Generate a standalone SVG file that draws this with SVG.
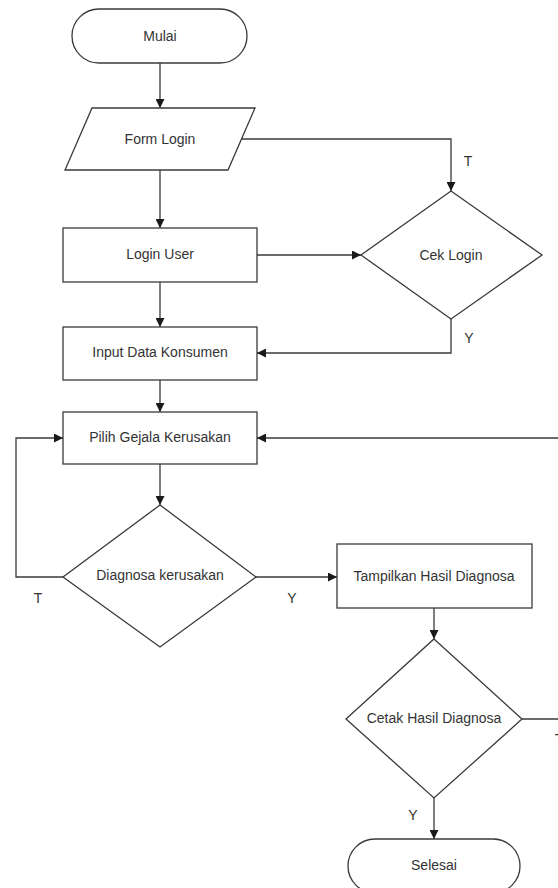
<svg xmlns="http://www.w3.org/2000/svg" width="558" height="888" viewBox="0 0 558 888">
  <style>
    .shape { fill: #ffffff; stroke: #3a3a3a; stroke-width: 1.3; }
    .edge { fill: none; stroke: #3a3a3a; stroke-width: 1.3; }
    .arrow { marker-end: url(#head); }
    text { font-family: "Liberation Sans", Arial, sans-serif; font-size: 14px; fill: #333333; text-anchor: middle; }
  </style>
  <defs>
    <marker id="head" viewBox="0 0 10 10" refX="10" refY="5" markerWidth="9" markerHeight="9" markerUnits="userSpaceOnUse" orient="auto">
      <path d="M0,0 L10,5 L0,10 Z" fill="#1a1a1a"/>
    </marker>
  </defs>
  <rect width="558" height="888" fill="#ffffff"/>

  <!-- connectors -->
  <g id="connectors">
    <path class="edge arrow" d="M160,63 L160,108"/>
    <path class="edge arrow" d="M241,139 L451,139 L451,191"/>
    <path class="edge arrow" d="M160,170 L160,228"/>
    <path class="edge arrow" d="M257,255 L361,255"/>
    <path class="edge arrow" d="M160,282 L160,327"/>
    <path class="edge arrow" d="M451,319 L451,353 L257,353"/>
    <path class="edge arrow" d="M160,380 L160,412"/>
    <path class="edge arrow" d="M160,464 L160,505"/>
    <path class="edge arrow" d="M63,577 L16,577 L16,438 L63,438"/>
    <path class="edge arrow" d="M256,577 L337,577"/>
    <path class="edge arrow" d="M434,608 L434,639"/>
    <path class="edge" d="M522,719 L560,719"/>
    <path class="edge arrow" d="M560,438 L257,438"/>
    <path class="edge arrow" d="M434,798 L434,839"/>
    <text x="468" y="166">T</text>
    <text x="469" y="343">Y</text>
    <text x="38" y="603">T</text>
    <text x="292" y="603">Y</text>
    <text x="413" y="820">Y</text>
    <text x="559" y="744">T</text>
  </g>

  <g id="mulai">
    <rect class="shape" x="72" y="9" width="175" height="54" rx="27" ry="27"/>
    <text x="160" y="41">Mulai</text>
  </g>

  <g id="form-login">
    <polygon class="shape" points="92,108 255,108 228,170 65,170"/>
    <text x="160" y="144">Form Login</text>
  </g>

  <g id="login-user">
    <rect class="shape" x="63" y="228" width="194" height="54"/>
    <text x="160" y="259">Login User</text>
  </g>

  <g id="cek-login">
    <polygon class="shape" points="451,191 542,255 451,319 361,255"/>
    <text x="451" y="260">Cek Login</text>
  </g>

  <g id="input-data">
    <rect class="shape" x="63" y="327" width="194" height="53"/>
    <text x="160" y="357">Input Data Konsumen</text>
  </g>

  <g id="pilih-gejala">
    <rect class="shape" x="63" y="412" width="194" height="52"/>
    <text x="160" y="442">Pilih Gejala Kerusakan</text>
  </g>

  <g id="diagnosa">
    <polygon class="shape" points="160,505 256,577 160,647 63,577"/>
    <text x="160" y="580">Diagnosa kerusakan</text>
  </g>

  <g id="tampilkan-hasil">
    <rect class="shape" x="337" y="544" width="195" height="64"/>
    <text x="434" y="581">Tampilkan Hasil Diagnosa</text>
  </g>

  <g id="cetak-hasil">
    <polygon class="shape" points="434,639 522,719 434,798 346,719"/>
    <text x="434" y="723">Cetak Hasil Diagnosa</text>
  </g>

  <g id="selesai">
    <rect class="shape" x="348" y="839" width="172" height="54" rx="27" ry="27"/>
    <text x="434" y="870">Selesai</text>
  </g>
</svg>
